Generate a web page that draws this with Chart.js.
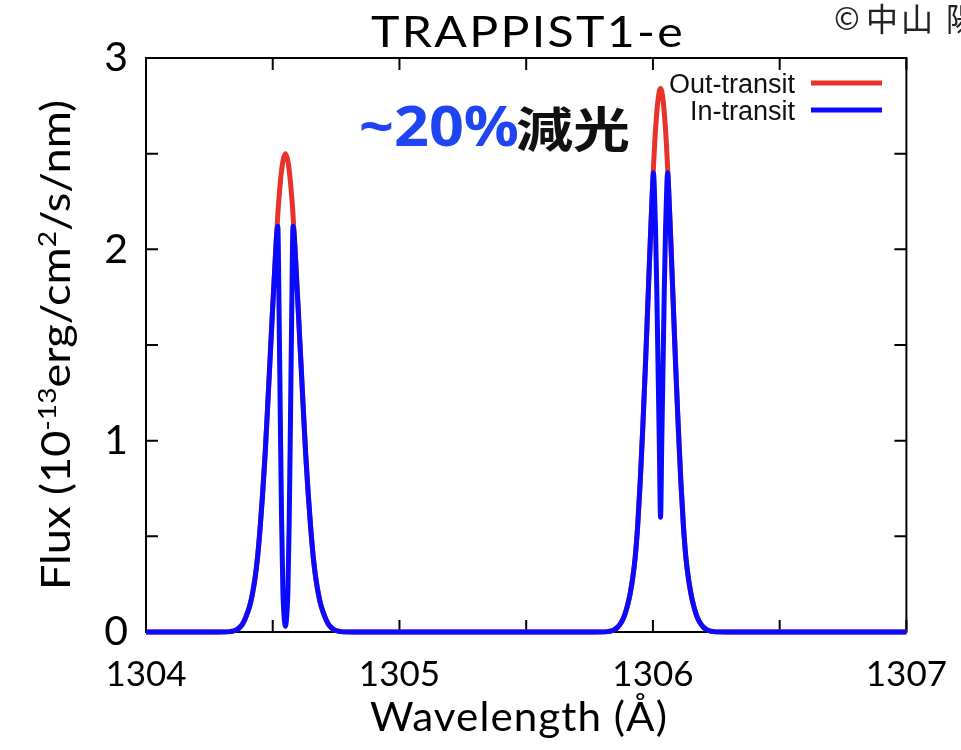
<!DOCTYPE html>
<html>
<head>
<meta charset="utf-8">
<script src="https://cdn.jsdelivr.net/npm/chart.js@4.4.1/dist/chart.umd.min.js"></script>
<style>
  body { margin: 0; background: #fff; }
  #contenedor { width: 961px; height: 750px; }
</style>
</head>
<body>
<div id="contenedor"><canvas id="grafica" width="961" height="750"></canvas></div>
<script>
// Out-transit (sin tránsito)
const outWl = [1304.00, 1304.28,
  1304.33, 1304.34, 1304.35, 1304.36, 1304.37, 1304.38, 1304.39, 1304.40, 1304.41, 1304.42,
  1304.43, 1304.44, 1304.45, 1304.46, 1304.47, 1304.48, 1304.49, 1304.50, 1304.51, 1304.52,
  1304.53, 1304.54, 1304.55, 1304.56, 1304.57, 1304.58, 1304.59, 1304.60, 1304.61, 1304.62,
  1304.63, 1304.64, 1304.65, 1304.66, 1304.67, 1304.68, 1304.69, 1304.70, 1304.71, 1304.72,
  1304.73, 1304.74, 1304.75, 1304.76, 1304.77,
  1304.82, 1305.77,
  1305.82, 1305.83, 1305.84, 1305.85, 1305.86, 1305.87, 1305.88, 1305.89, 1305.90, 1305.91,
  1305.92, 1305.93, 1305.94, 1305.95, 1305.96, 1305.97, 1305.98, 1305.99, 1306.00, 1306.01,
  1306.02, 1306.03, 1306.04, 1306.05, 1306.06, 1306.07, 1306.08, 1306.09, 1306.10, 1306.11,
  1306.12, 1306.13, 1306.14, 1306.15, 1306.16, 1306.17, 1306.18, 1306.19, 1306.20, 1306.21,
  1306.22, 1306.23, 1306.24,
  1306.29, 1307.00];
const outFlux = [0, 0,
  0.002, 0.004, 0.008, 0.014, 0.024, 0.040, 0.065, 0.10, 0.14, 0.20,
  0.28, 0.39, 0.54, 0.72, 0.93, 1.18, 1.44, 1.70, 1.95, 2.18,
  2.35, 2.46, 2.50, 2.46, 2.35, 2.18, 1.95, 1.70, 1.44, 1.18,
  0.93, 0.72, 0.54, 0.39, 0.28, 0.20, 0.14, 0.10, 0.065, 0.040,
  0.024, 0.014, 0.008, 0.004, 0.002,
  0, 0,
  0.002, 0.004, 0.008, 0.014, 0.024, 0.040, 0.062, 0.095, 0.14, 0.20,
  0.28, 0.39, 0.56, 0.79, 1.07, 1.38, 1.72, 2.06, 2.37, 2.62,
  2.78, 2.84, 2.78, 2.62, 2.37, 2.06, 1.72, 1.38, 1.07, 0.79,
  0.56, 0.39, 0.28, 0.20, 0.14, 0.095, 0.062, 0.040, 0.024, 0.014,
  0.008, 0.004, 0.002,
  0, 0];

// In-transit (en tránsito)
const inWl = [1304.00, 1304.28,
  1304.33, 1304.34, 1304.35, 1304.36, 1304.37, 1304.38, 1304.39, 1304.40, 1304.41, 1304.42,
  1304.43, 1304.44, 1304.45, 1304.46, 1304.47, 1304.48, 1304.49, 1304.50, 1304.51,
  1304.515, 1304.52, 1304.525, 1304.53, 1304.535, 1304.54, 1304.545, 1304.55,
  1304.555, 1304.56, 1304.565, 1304.57, 1304.575, 1304.58, 1304.585,
  1304.59, 1304.60, 1304.61, 1304.62, 1304.63, 1304.64, 1304.65, 1304.66, 1304.67, 1304.68,
  1304.69, 1304.70, 1304.71, 1304.72, 1304.73, 1304.74, 1304.75, 1304.76, 1304.77,
  1304.82, 1305.77,
  1305.82, 1305.83, 1305.84, 1305.85, 1305.86, 1305.87, 1305.88, 1305.89, 1305.90, 1305.91,
  1305.92, 1305.93, 1305.94, 1305.95, 1305.96, 1305.97, 1305.98, 1305.99,
  1305.995, 1306.00, 1306.002, 1306.005, 1306.01, 1306.015, 1306.02, 1306.025, 1306.03,
  1306.035, 1306.04, 1306.045, 1306.05, 1306.055, 1306.058, 1306.06, 1306.065,
  1306.07, 1306.08, 1306.09, 1306.10, 1306.11, 1306.12, 1306.13, 1306.14, 1306.15, 1306.16,
  1306.17, 1306.18, 1306.19, 1306.20, 1306.21, 1306.22, 1306.23, 1306.24,
  1306.29, 1307.00];
const inFlux = [0, 0,
  0.002, 0.004, 0.008, 0.014, 0.024, 0.040, 0.065, 0.10, 0.14, 0.20,
  0.28, 0.39, 0.54, 0.72, 0.93, 1.18, 1.44, 1.70, 1.95,
  2.07, 2.12, 1.68, 1.11, 0.58, 0.22, 0.08, 0.03,
  0.08, 0.22, 0.58, 1.11, 1.68, 2.12, 2.07,
  1.95, 1.70, 1.44, 1.18, 0.93, 0.72, 0.54, 0.39, 0.28, 0.20,
  0.14, 0.10, 0.065, 0.040, 0.024, 0.014, 0.008, 0.004, 0.002,
  0, 0,
  0.002, 0.004, 0.008, 0.014, 0.024, 0.040, 0.062, 0.095, 0.14, 0.20,
  0.28, 0.39, 0.56, 0.79, 1.07, 1.38, 1.72, 2.06,
  2.22, 2.37, 2.40, 2.34, 2.12, 1.80, 1.40, 1.00, 0.60,
  1.00, 1.40, 1.80, 2.12, 2.34, 2.40, 2.37, 2.22,
  2.06, 1.72, 1.38, 1.07, 0.79, 0.56, 0.39, 0.28, 0.20, 0.14,
  0.095, 0.062, 0.040, 0.024, 0.014, 0.008, 0.004, 0.002,
  0, 0];

// Ticks
const xTicks = [1304, 1305, 1306, 1307];
const xMinor = [1304.5, 1305.5, 1306.5];
const yTicks = [0, 1, 2, 3];
const yMinor = [0.5, 1.5, 2.5];

const ROJO = '#e8322a';
const AZUL = '#0a0aff';

function puntos(xs, ys) {
  return xs.map((v, i) => ({ x: v, y: ys[i] }));
}

// Dibuja texto estirado horizontalmente hasta un ancho dado
function textoEstirado(ctx, txt, x, y, ancho, alinear) {
  const w = ctx.measureText(txt).width;
  ctx.save();
  ctx.translate(x, y);
  ctx.scale(ancho / w, 1);
  ctx.textAlign = alinear;
  ctx.fillText(txt, 0, 0);
  ctx.restore();
}

const decoraciones = {
  id: 'decoraciones',
  beforeDatasetsDraw(chart) {
    const { ctx, chartArea: a, scales: { x, y } } = chart;
    ctx.save();
    ctx.strokeStyle = '#000';
    ctx.lineWidth = 2;
    ctx.strokeRect(a.left, a.top, a.right - a.left, a.bottom - a.top);
    const L = 12;
    ctx.beginPath();
    xTicks.concat(xMinor).forEach(v => {
      const px = x.getPixelForValue(v);
      ctx.moveTo(px, a.bottom); ctx.lineTo(px, a.bottom - L);
      ctx.moveTo(px, a.top); ctx.lineTo(px, a.top + L);
    });
    yTicks.concat(yMinor).forEach(v => {
      const py = y.getPixelForValue(v);
      ctx.moveTo(a.left, py); ctx.lineTo(a.left + L, py);
      ctx.moveTo(a.right, py); ctx.lineTo(a.right - L, py);
    });
    ctx.stroke();
    ctx.restore();
  },
  afterDraw(chart) {
    const { ctx } = chart;
    ctx.save();
    ctx.fillStyle = '#000';
    ctx.textBaseline = 'alphabetic';

    // Título
    ctx.font = '400 42px Lato';
    ctx.letterSpacing = '2px';
    textoEstirado(ctx, 'TRAPPIST1-e', 528, 47, 314, 'center');
    ctx.letterSpacing = '0px';

    // Copyright (cortado por el borde derecho)
    ctx.fillStyle = '#222';
    ctx.font = '400 31px "Noto Sans CJK JP"';
    ctx.textAlign = 'left';
    ctx.fillText('©', 834, 30);
    ctx.font = '400 32px "Noto Sans CJK JP"';
    ctx.fillText('中', 866, 31);
    ctx.fillText('山', 901, 31);
    ctx.fillText('陽', 946, 31);

    // Eje X
    ctx.fillStyle = '#000';
    ctx.font = '400 40px Lato';
    ctx.letterSpacing = '1px';
    textoEstirado(ctx, 'Wavelength (Å)', 519, 731, 298, 'center');
    ctx.letterSpacing = '0px';

    // Eje Y con superíndices
    ctx.save();
    ctx.translate(70, 345);
    ctx.rotate(-Math.PI / 2);
    const partes = [
      ['Flux (10', false], ['-13', true], ['erg/cm', false], ['2', true], ['/s/nm)', false]
    ];
    const fN = '400 40px Lato', fS = '400 25px Lato';
    let total = 0;
    partes.forEach(([t, sup]) => { ctx.font = sup ? fS : fN; total += ctx.measureText(t).width; });
    ctx.scale(490 / total, 1);
    let cx = -total / 2;
    ctx.textAlign = 'left';
    partes.forEach(([t, sup]) => {
      ctx.font = sup ? fS : fN;
      ctx.fillText(t, cx, sup ? -14 : 0);
      cx += ctx.measureText(t).width;
    });
    ctx.restore();

    // Anotación ~20%減光
    ctx.font = '700 56px "Noto Sans"';
    ctx.fillStyle = '#1f45f2';
    textoEstirado(ctx, '~20%', 359, 146, 160, 'left');
    ctx.font = '700 48px "Noto Sans CJK JP"';
    ctx.fillStyle = '#111';
    textoEstirado(ctx, '減光', 516, 147, 114, 'left');

    // Leyenda
    ctx.font = '400 27px "Liberation Sans"';
    ctx.fillStyle = '#111';
    ctx.textAlign = 'right';
    ctx.fillText('Out-transit', 795, 93);
    ctx.fillText('In-transit', 795, 120);
    ctx.lineWidth = 5;
    ctx.strokeStyle = ROJO;
    ctx.beginPath(); ctx.moveTo(811, 83); ctx.lineTo(882, 83); ctx.stroke();
    ctx.strokeStyle = AZUL;
    ctx.beginPath(); ctx.moveTo(811, 110); ctx.lineTo(882, 110); ctx.stroke();

    ctx.restore();
  }
};

const ctx = document.getElementById('grafica').getContext('2d');
new Chart(ctx, {
  type: 'line',
  data: {
    datasets: [
      {
        label: 'In-transit',
        data: puntos(inWl, inFlux),
        borderColor: AZUL,
        borderWidth: 5,
        pointRadius: 0,
        cubicInterpolationMode: 'monotone',
        clip: false,
        order: 0
      },
      {
        label: 'Out-transit',
        data: puntos(outWl, outFlux),
        borderColor: ROJO,
        borderWidth: 5,
        pointRadius: 0,
        cubicInterpolationMode: 'monotone',
        clip: false,
        order: 1
      }
    ]
  },
  options: {
    responsive: false,
    animation: false,
    layout: { padding: { top: 58, right: 50, left: 0, bottom: 0 } },
    plugins: {
      legend: { display: false },
      tooltip: { enabled: false },
      title: { display: false }
    },
    scales: {
      x: {
        type: 'linear',
        min: 1304, max: 1307,
        afterFit: s => { s.height = 118; },
        grid: { display: false },
        border: { display: false },
        ticks: {
          stepSize: 1,
          maxRotation: 0,
          padding: 14,
          color: '#000',
          font: { family: 'Lato', size: 35 },
          callback: v => v.toString()
        }
      },
      y: {
        min: 0, max: 3,
        afterFit: s => { s.width = 146; },
        grid: { display: false },
        border: { display: false },
        ticks: {
          stepSize: 1,
          padding: 10,
          color: '#000',
          font: { family: 'Lato', size: 41 }
        }
      }
    }
  },
  plugins: [decoraciones]
});
</script>
</body>
</html>
